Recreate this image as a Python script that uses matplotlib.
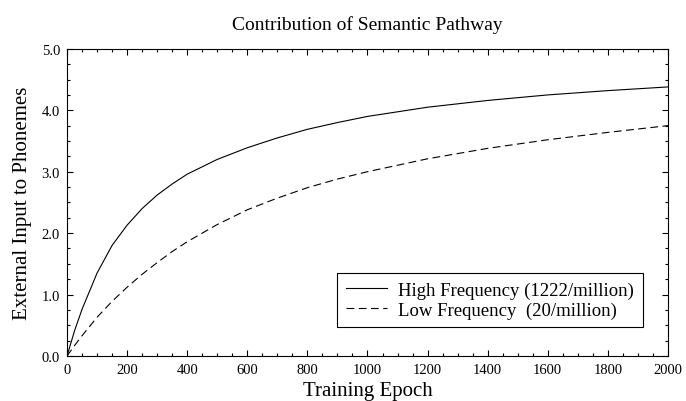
import matplotlib
matplotlib.use("Agg")
import matplotlib.pyplot as plt
from matplotlib.ticker import MultipleLocator, FormatStrFormatter

# data
epochs = [0, 25, 50, 100, 150, 200, 250, 300, 350, 400, 500, 600, 700,
          800, 900, 1000, 1200, 1400, 1600, 1800, 2000]
high_freq = [0.0, 0.41, 0.76, 1.35, 1.80, 2.13, 2.40, 2.62, 2.80, 2.96, 3.20,
             3.39, 3.55, 3.69, 3.80, 3.90, 4.05, 4.16, 4.25, 4.32, 4.38]
low_freq = [0.0, 0.17, 0.33, 0.63, 0.89, 1.12, 1.33, 1.52, 1.70, 1.86, 2.14,
            2.38, 2.57, 2.74, 2.88, 3.00, 3.21, 3.38, 3.52, 3.64, 3.75]
labels = ["High Frequency (1222/million)", "Low Frequency  (20/million)"]

plt.rcParams['font.family'] = ['Liberation Serif', 'DejaVu Serif']


def main():
    fig = plt.figure(figsize=(6.86, 4.02), dpi=100)
    ax = fig.add_axes([0.0977, 0.112, 0.876, 0.764])

    ax.plot(epochs, high_freq, color='black', lw=0.8, label=labels[0])
    ax.plot(epochs, low_freq, color='black', lw=0.8, dashes=(7, 4), label=labels[1])

    ax.set_xlim(0, 2000)
    ax.set_ylim(0, 5)
    ax.xaxis.set_major_locator(MultipleLocator(200))
    ax.xaxis.set_minor_locator(MultipleLocator(50))
    ax.yaxis.set_major_locator(MultipleLocator(1.0))
    ax.yaxis.set_minor_locator(MultipleLocator(0.25))
    ax.yaxis.set_major_formatter(FormatStrFormatter('%.1f'))

    ax.tick_params(which='both', direction='in', top=True, right=True,
                   width=0.8, labelsize=10.5, pad=5)
    ax.tick_params(which='major', length=4.5)
    ax.tick_params(which='minor', length=2.3)
    for s in ax.spines.values():
        s.set_linewidth(0.8)

    ax.set_xlabel("Training Epoch", fontsize=15, labelpad=4)
    ax.set_ylabel("External Input to Phonemes", fontsize=15, labelpad=7)
    ax.set_title("Contribution of Semantic Pathway", fontsize=14, pad=14)

    leg = ax.legend(loc='lower right', bbox_to_anchor=(0.958, 0.094),
                    fontsize=13.5, fancybox=False, edgecolor='black',
                    framealpha=1, handlelength=2.2, handletextpad=0.6,
                    labelspacing=0.15, borderpad=0.45, borderaxespad=0)
    leg.get_frame().set_linewidth(0.8)

    fig.savefig("out.png", dpi=100)
    plt.close(fig)


if __name__ == "__main__":
    main()
